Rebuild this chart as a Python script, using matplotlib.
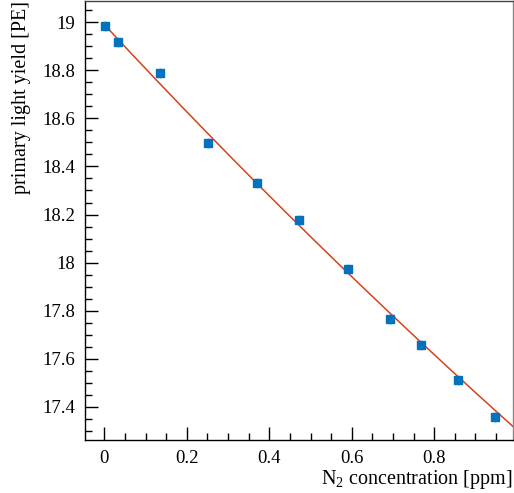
import numpy as np
import matplotlib
matplotlib.use("Agg")
import matplotlib.pyplot as plt
from matplotlib.ticker import MultipleLocator

# N2 concentration scan: measured primary light yield
n2_ppm = [0.002, 0.032, 0.134, 0.251, 0.370, 0.472, 0.591, 0.692, 0.767, 0.857, 0.947]
light_yield = [18.986, 18.917, 18.789, 18.497, 18.331, 18.177, 17.973, 17.766, 17.658, 17.511, 17.358]
light_yield_err = [0.021] * len(n2_ppm)

# quenching fit: LY = LY0 / (1 + k * [N2])
fit_ly0 = 18.99
fit_k = 0.0974

x_ticks = [0, 0.2, 0.4, 0.6, 0.8]
x_tick_labels = ["0", "0.2", "0.4", "0.6", "0.8"]
y_ticks = [17.4, 17.6, 17.8, 18.0, 18.2, 18.4, 18.6, 18.8, 19.0]
y_tick_labels = ["17.4", "17.6", "17.8", "18", "18.2", "18.4", "18.6", "18.8", "19"]

plt.rcParams["font.family"] = ["Liberation Serif", "DejaVu Serif"]
plt.rcParams["mathtext.fontset"] = "custom"
plt.rcParams["mathtext.rm"] = "Liberation Serif"

W, H = 514, 493
fig = plt.figure(figsize=(W / 100, H / 100), dpi=100)
ax = fig.add_axes([85 / W, 1 - 440.3 / H, (513 - 85) / W, (440.3 - 0.8) / H])

xmin, xmax = -0.0469, 0.991
ymin, ymax = 17.261, 19.089

xf = np.linspace(0, xmax, 400)
ax.plot(xf, fit_ly0 / (1 + fit_k * xf), color="#d5431c", lw=1.1, zorder=2)

ax.errorbar(n2_ppm, light_yield, yerr=light_yield_err, fmt="s", ms=5.8,
            color="#0172bb", ecolor="#5fa6d6", elinewidth=1.0, capsize=0,
            mec="#0172bb", zorder=3)

ax.set_xlim(xmin, xmax)
ax.set_ylim(ymin, ymax)
ax.set_xticks(x_ticks)
ax.set_xticklabels(x_tick_labels)
ax.set_yticks(y_ticks)
ax.set_yticklabels(y_tick_labels)
ax.xaxis.set_minor_locator(MultipleLocator(0.05))
ax.yaxis.set_minor_locator(MultipleLocator(0.05))
ax.tick_params(which="both", direction="in", top=False, right=False,
               labelsize=13.5, width=1.0, colors="black")
ax.tick_params(which="major", length=9.5, pad=7)
ax.tick_params(which="minor", length=4.8)
for s in ax.spines.values():
    s.set_linewidth(1.0)
ax.spines["right"].set_color("#888888")
ax.spines["top"].set_color("#444444")

ax.set_xlabel(r"N$_2$ concentration [ppm]", fontsize=14.5, loc="right", labelpad=0.5)
ax.set_ylabel("primary light yield [PE]", fontsize=14.5, loc="top", labelpad=8)

fig.savefig("out.png", dpi=100)
